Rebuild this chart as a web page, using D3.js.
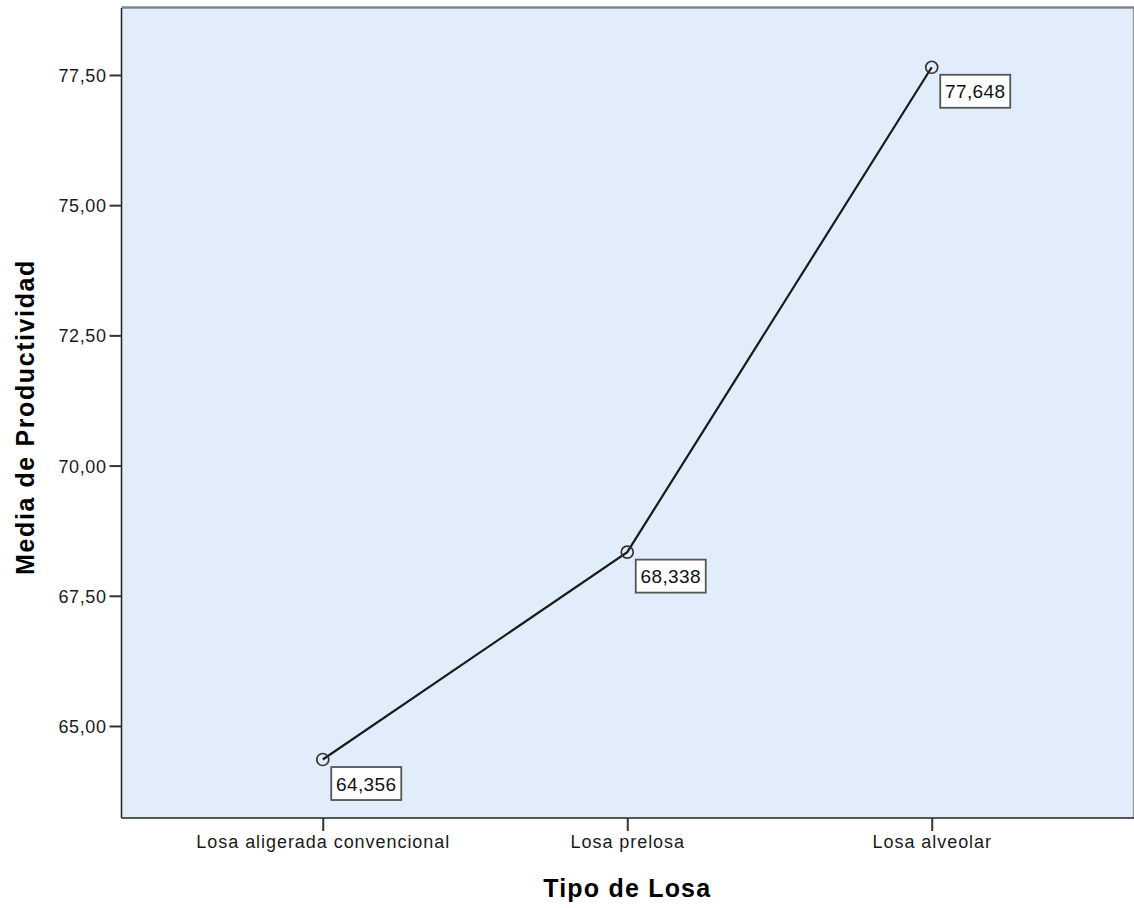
<!DOCTYPE html>
<html><head><meta charset="utf-8">
<script src="https://cdn.jsdelivr.net/npm/d3@7"></script>
<style>
html,body{margin:0;padding:0;background:#fff;}
svg{display:block;}
text{font-family:"Liberation Sans", Arial, sans-serif;}
</style></head>
<body><svg id="chart" width="1134" height="908"></svg>
<script>
const categories = ["Losa aligerada convencional", "Losa prelosa", "Losa alveolar"];
const means = [64.356, 68.338, 77.648];
const valueLabels = ["64,356", "68,338", "77,648"];
const yTicks = [65, 67.5, 70, 72.5, 75, 77.5];
const yDomain = [63.233, 78.786];
const xTitle = "Tipo de Losa";
const yTitle = "Media de Productividad";

const svg = d3.select("#chart");
const m = {left: 121.5, right: 1133, top: 8, bottom: 818};

const x = d3.scalePoint().domain(categories).range([m.left, m.right]).padding(0.661);
const y = d3.scaleLinear().domain(yDomain).range([m.bottom, m.top]);

// plot background
svg.append("rect").attr("x", m.left).attr("y", m.top)
  .attr("width", m.right - m.left).attr("height", m.bottom - m.top)
  .attr("fill", "#e1edfb");
// top & right frame (gray)
svg.append("line").attr("x1", m.left).attr("x2", m.right + 1).attr("y1", m.top - 0.5).attr("y2", m.top - 0.5)
  .attr("stroke", "#858585").attr("stroke-width", 2.5);
svg.append("line").attr("x1", m.right + 0.5).attr("x2", m.right + 0.5).attr("y1", m.top).attr("y2", m.bottom)
  .attr("stroke", "#9a9a9a").attr("stroke-width", 1.5);

// axes
const fmt = d3.formatLocale({decimal: ",", thousands: ".", grouping: [3], currency: ["", ""]}).format(".2f");
const yAxis = svg.append("g").attr("transform", `translate(${m.left},0)`)
  .call(d3.axisLeft(y).tickValues(yTicks).tickFormat(fmt).tickSize(12).tickPadding(3));
const xAxis = svg.append("g").attr("transform", `translate(0,${m.bottom})`)
  .call(d3.axisBottom(x).tickSize(13).tickPadding(4));
yAxis.select(".domain").attr("stroke", "#222").attr("stroke-width", 1.5).attr("d", `M0,${m.top}V${m.bottom}`);
xAxis.select(".domain").attr("stroke", "#222").attr("stroke-width", 1.5).attr("d", `M${m.left},0H${m.right + 1}`);
[yAxis, xAxis].forEach(a => {
  a.selectAll(".tick line").attr("stroke", "#333").attr("stroke-width", 2);
  a.selectAll(".tick text").attr("fill", "#1a1a1a").attr("font-size", 18)
   .attr("font-family", '"Liberation Sans", Arial, sans-serif').attr("letter-spacing", 0.6);
});
xAxis.selectAll(".tick text").attr("letter-spacing", 0.95);
yAxis.selectAll(".tick text").attr("dy", "0.36em");

// line
const line = d3.line().x((d, i) => x(categories[i])).y(d => y(d));
svg.append("path").datum(means).attr("d", line)
  .attr("fill", "none").attr("stroke", "#1a1a1a").attr("stroke-width", 2.2);
svg.selectAll("circle.pt").data(means).join("circle").attr("class", "pt")
  .attr("cx", (d, i) => x(categories[i])).attr("cy", d => y(d)).attr("r", 6)
  .attr("fill", "none").attr("stroke", "#333").attr("stroke-width", 1.7);

// value labels
const lab = svg.selectAll("g.lab").data(means).join("g").attr("class", "lab")
  .attr("transform", (d, i) => `translate(${x(categories[i]) + 8.5},${y(d) + 7.5})`);
lab.append("rect").attr("width", 70).attr("height", 33)
  .attr("fill", "#fff").attr("stroke", "#555").attr("stroke-width", 1.8);
lab.append("text").attr("x", 35).attr("y", 23.5).attr("text-anchor", "middle")
  .attr("font-size", 19).attr("fill", "#111").attr("letter-spacing", 0.4)
  .text((d, i) => valueLabels[i]);

// titles
svg.append("text").attr("x", (m.left + m.right) / 2).attr("y", 897).attr("text-anchor", "middle")
  .attr("font-size", 25).attr("font-weight", "bold").attr("letter-spacing", 1.2).attr("fill", "#000")
  .text(xTitle);
svg.append("text").attr("transform", `translate(34,${(m.top + m.bottom) / 2 + 4}) rotate(-90)`)
  .attr("text-anchor", "middle")
  .attr("font-size", 25).attr("font-weight", "bold").attr("letter-spacing", 1.6).attr("fill", "#000")
  .text(yTitle);
</script></body></html>
